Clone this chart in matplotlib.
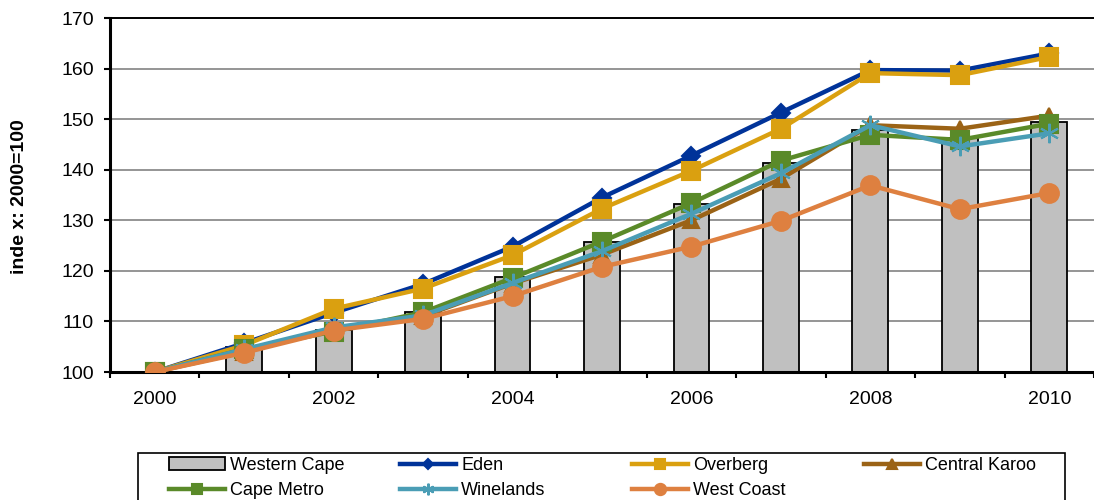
import matplotlib
matplotlib.use('Agg')
import matplotlib.pyplot as plt
from matplotlib.patches import Rectangle
import numpy as np

plt.rcParams['font.family'] = ['Liberation Sans', 'DejaVu Sans']

# --- data ---
years = [2000, 2001, 2002, 2003, 2004, 2005, 2006, 2007, 2008, 2009, 2010]
western_cape = [100, 104.9, 108.3, 111.9, 118.7, 125.7, 133.2, 141.4, 147.8, 146.2, 149.4]
eden = [100, 105.7, 111.7, 117.4, 124.8, 134.5, 142.8, 151.3, 159.7, 159.6, 163.0]
overberg = [100, 105.3, 112.5, 116.5, 123.1, 132.3, 139.8, 148.1, 159.1, 158.7, 162.3]
central_karoo = [100, 104.0, 108.4, 111.0, 117.5, 123.2, 130.0, 138.2, 148.8, 148.1, 150.7]
cape_metro = [100, 104.5, 108.0, 111.8, 118.6, 125.8, 133.4, 141.8, 146.9, 145.9, 149.1]
winelands = [100, 104.5, 108.8, 111.2, 117.6, 123.9, 131.3, 139.3, 148.8, 144.6, 147.2]
west_coast = [100, 103.8, 108.2, 110.5, 115.0, 120.8, 124.8, 129.9, 136.9, 132.2, 135.4]

series = [
    ('Eden', eden, '#003399', 'D', 9),
    ('Overberg', overberg, '#DAA010', 's', 12.5),
    ('Central Karoo', central_karoo, '#9B6316', '^', 12),
    ('Cape Metro', cape_metro, '#5A8A29', 's', 12.5),
    ('Winelands', winelands, '#4A9DB5', (6, 2, 0), 14),
    ('West Coast', west_coast, '#DE8040', 'o', 13.5),
]

W, H = 1094, 500
fig = plt.figure(figsize=(W / 100, H / 100), dpi=100)
ax = fig.add_axes([110 / W, 1 - 372 / H, 984 / W, 354 / H])

x = np.arange(len(years))
bars = ax.bar(x, [v - 100 for v in western_cape], bottom=100, width=0.4,
              color='#C0C0C0', edgecolor='black', linewidth=1.3, zorder=2,
              label='Western Cape')

handles = {'Western Cape': bars}
for name, vals, col, mk, ms in series:
    ln, = ax.plot(x, vals, color=col, linewidth=3.2, marker=mk, markersize=ms,
                  markeredgecolor=col, markeredgewidth=1.5, label=name, zorder=3)
    handles[name] = ln

ax.set_ylim(100, 170)
ax.set_yticks(range(100, 171, 10))
ax.set_xlim(-0.5, -0.5 + 984 / 90)
ax.set_xticks(np.arange(-0.5, 10.6, 1))
ax.set_xticklabels([])
ax.set_xticks(x[::2], minor=True)
ax.set_xticklabels([str(y) for y in years[::2]], minor=True)
ax.tick_params(axis='x', which='minor', length=0, pad=14, labelsize=14)
ax.tick_params(axis='x', which='major', direction='out', length=4.5, width=1.5)
ax.tick_params(axis='y', direction='out', length=4.5, width=1.5, labelsize=14, pad=7)

ax.yaxis.grid(True, color='#8c8c8c', linewidth=1.3, zorder=0)
ax.set_axisbelow(True)
ax.spines['right'].set_visible(False)
ax.spines['top'].set_linewidth(1.4)
ax.spines['left'].set_linewidth(2.2)
ax.spines['bottom'].set_linewidth(2.2)

fig.text(20 / W, 1 - 197 / H, 'inde x: 2000=100', rotation=90, fontsize=14,
         fontweight='bold', ha='center', va='center')

# legend: box + four columns placed like the original
fig.add_artist(Rectangle((138 / W, -0.05), (1065 - 138) / W, 0.05 + 47 / H,
                         transform=fig.transFigure, fill=False,
                         edgecolor='black', linewidth=1.2))
columns = [
    (169, ['Western Cape', 'Cape Metro']),
    (400, ['Eden', 'Winelands']),
    (632, ['Overberg', 'West Coast']),
    (864, ['Central Karoo']),
]
for xpos, names in columns:
    fig.legend([handles[n] for n in names], names, loc='upper left',
               bbox_to_anchor=(xpos / W, 1 - 457 / H), frameon=False,
               fontsize=13, handlelength=3.1, handletextpad=0.3,
               borderpad=0, borderaxespad=0, labelspacing=0.45, markerscale=0.6)

fig.savefig('out.png', dpi=100)
